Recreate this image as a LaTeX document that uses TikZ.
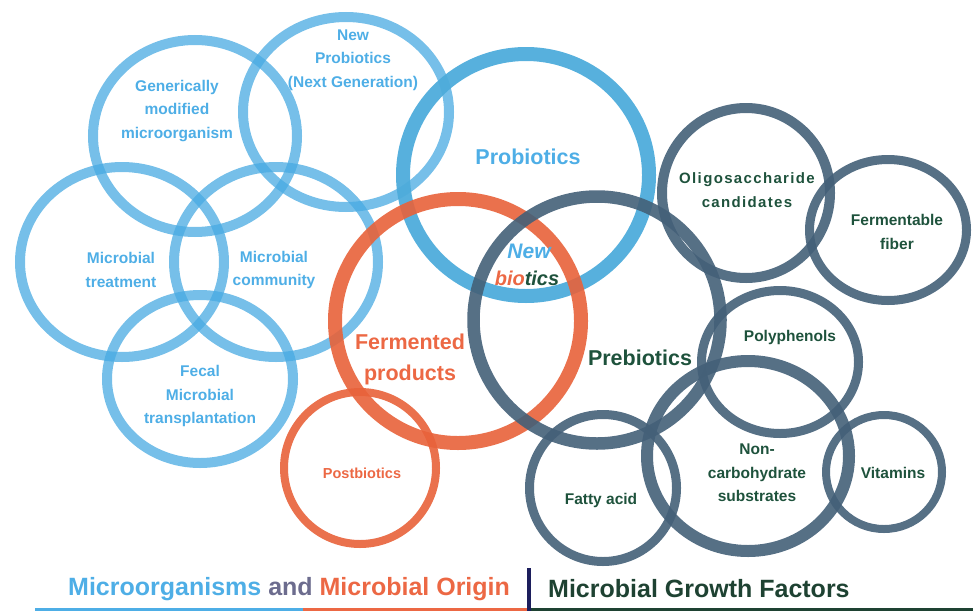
\documentclass[tikz,border=0pt]{standalone}
\usepackage{fontspec}
\setmainfont{Liberation Sans}
\newfontfamily\spaced[LetterSpace=9]{Liberation Sans}
\usetikzlibrary{shapes.geometric}

\definecolor{ringblue}{RGB}{72,170,226}
\definecolor{probblue}{RGB}{78,172,219}
\definecolor{ringorange}{RGB}{232,98,58}
\definecolor{slate}{RGB}{68,96,120}
\definecolor{txtblue}{RGB}{78,174,230}
\definecolor{txtorange}{RGB}{236,104,68}
\definecolor{txtgreen}{RGB}{30,82,60}
\definecolor{txtgrey}{RGB}{108,108,142}
\definecolor{barnavy}{RGB}{28,30,92}
\definecolor{linegreen}{RGB}{30,66,50}

\tikzset{
  ring/.style={ellipse, draw, inner sep=0pt, outer sep=0pt},
  lightring/.style={ring, draw=ringblue, draw opacity=0.75, line width=10pt},
  darkring/.style={ring, draw=slate, draw opacity=0.9},
  orangering/.style={ring, draw=ringorange, draw opacity=0.9},
  lbl/.style={font=\bfseries\fontsize{15.5}{23.5}\selectfont, align=center, inner sep=0pt},
  bluelbl/.style={lbl, text=txtblue},
  greenlbl/.style={lbl, text=txtgreen},
  biglbl/.style={font=\bfseries\fontsize{21.5}{31}\selectfont, align=center, inner sep=0pt},
  legend/.style={font=\bfseries\fontsize{25}{30}\selectfont, anchor=west, inner sep=0pt},
}

\begin{document}
\begin{tikzpicture}[x=1pt, y=-1pt]
\useasboundingbox (0,0) rectangle (973,613);

% microorganism rings
\node[lightring, minimum width=204pt, minimum height=192pt] (gmo) at (195,136) {};
\node[lightring, minimum width=206pt, minimum height=190pt] (ngp) at (346,112) {};
\node[lightring, minimum width=204pt, minimum height=190pt] (treat) at (122,262) {};
\node[lightring, minimum width=204pt, minimum height=190pt] (comm) at (276,262) {};
\node[lightring, minimum width=186pt, minimum height=168pt] (fmt) at (200,379) {};

% the three main rings
\node[ring, draw=probblue, draw opacity=0.95, line width=14pt,
      minimum width=246pt, minimum height=242pt] (pro) at (526,175) {};
\node[orangering, line width=14pt, minimum width=246pt, minimum height=244pt] (ferm) at (458,321) {};
\node[orangering, line width=8pt, minimum width=152pt, minimum height=152pt] (post) at (360,468) {};
\node[darkring, line width=12.5pt, minimum width=247pt, minimum height=247pt] (pre) at (597,320) {};

% growth factor rings
\node[darkring, line width=10pt, minimum width=168pt, minimum height=170pt] (oligo) at (746,193) {};
\node[darkring, line width=9pt, minimum width=157pt, minimum height=141pt] (fiber) at (888,230) {};
\node[darkring, line width=9pt, minimum width=157pt, minimum height=143pt] (poly) at (780,362) {};
\node[darkring, line width=12pt, minimum width=202pt, minimum height=190pt] (noncarb) at (748,456) {};
\node[darkring, line width=8pt, minimum width=116pt, minimum height=114pt] (vit) at (884,472) {};
\node[darkring, line width=9pt, minimum width=147pt, minimum height=147pt] (fatty) at (603,488) {};

% labels
\node[bluelbl] (t-gmo) at (177,111) {Generically\\modified\\microorganism};
\node[bluelbl] (t-ngp) at (353,60) {New\\Probiotics\\(Next Generation)};
\node[bluelbl] (t-treat) at (121,270) {Microbial\\treatment};
\node[bluelbl] (t-comm) at (274,270) {Microbial\\community};
\node[bluelbl] (t-fmt) at (200,396) {Fecal\\Microbial\\transplantation};

\node[biglbl, text=txtblue] (t-pro) at (528,157) {Probiotics};
\node[biglbl, text=txtorange] (t-ferm) at (410,359) {Fermented\\products};
\node[biglbl, text=txtgreen] (t-pre) at (640,358) {Prebiotics};
\node[font=\bfseries\itshape\fontsize{21}{30}\selectfont, text=txtblue, inner sep=0pt] (t-new) at (529,251) {New};
\node[font=\bfseries\itshape\fontsize{20}{30}\selectfont, inner sep=0pt] (t-bio) at (527,278)
  {\textcolor{txtorange}{bio}\textcolor{txtgreen}{tics}};
\node[lbl, text=txtorange, font=\bfseries\fontsize{14.5}{20}\selectfont] (t-post) at (362,473) {Postbiotics};

\node[greenlbl, font=\bfseries\spaced\fontsize{15}{24}\selectfont] (t-oligo) at (747,190) {Oligosaccharide\\candidates};
\node[greenlbl] (t-fiber) at (897,232) {Fermentable\\fiber};
\node[greenlbl] (t-poly) at (790,337) {Polyphenols};
\node[greenlbl] (t-noncarb) at (757,473) {Non-\\carbohydrate\\substrates};
\node[greenlbl] (t-vit) at (893,473) {Vitamins};
\node[greenlbl] (t-fatty) at (601,500) {Fatty acid};

% legend
\coordinate (l0) at (35,609);
\coordinate (l1) at (303,609);
\coordinate (l2) at (527,609);
\coordinate (l3) at (531,609);
\coordinate (l4) at (973,609);
\coordinate (b0) at (529,568);
\coordinate (b1) at (529,611);
\draw[line width=3pt, txtblue] (l0) -- (l1);
\draw[line width=3pt, txtorange] (l1) -- (l2);
\draw[line width=3pt, linegreen] (l3) -- (l4);
\draw[line width=4pt, barnavy] (b0) -- (b1);

\node[legend] (leg-left) at (68,589)
  {\textcolor{txtblue}{Microorganisms} \textcolor{txtgrey}{and} \textcolor{txtorange}{Microbial Origin}};
\node[legend, text=linegreen] (leg-right) at (548,589) {Microbial Growth Factors};
\end{tikzpicture}
\end{document}
